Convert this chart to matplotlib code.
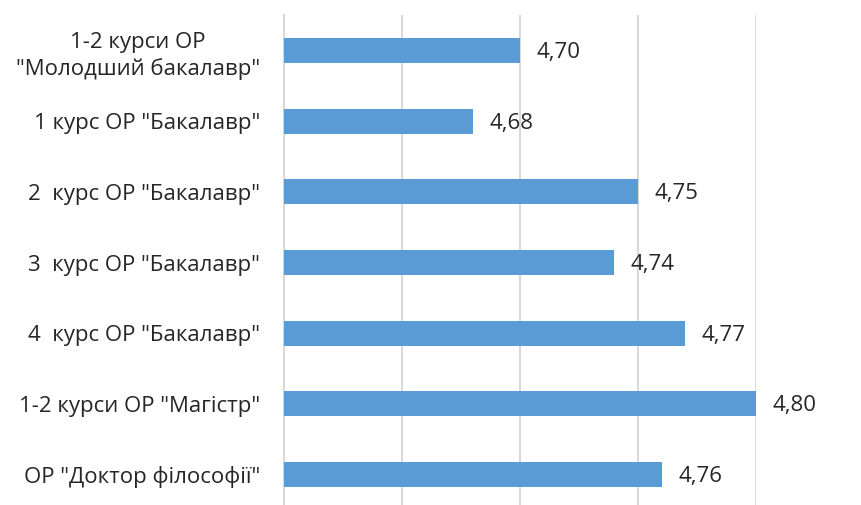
import matplotlib
matplotlib.use("Agg")
import matplotlib.pyplot as plt

categories = ['1-2 курси ОР\n"Молодший бакалавр"', '1 курс ОР "Бакалавр"', '2  курс ОР "Бакалавр"',
              '3  курс ОР "Бакалавр"', '4  курс ОР "Бакалавр"', '1-2 курси ОР "Магістр"',
              'ОР "Доктор філософії"']
values = [4.70, 4.68, 4.75, 4.74, 4.77, 4.80, 4.76]
value_labels = ["4,70", "4,68", "4,75", "4,74", "4,77", "4,80", "4,76"]

plt.rcParams['font.family'] = ['Open Sans', 'DejaVu Sans']

fig = plt.figure(figsize=(8.61, 5.05), dpi=100)
ax = fig.add_axes([283.5/861, 1 - 509.75/505, (756-283.5)/861, (509.75-15.25)/505])

y = list(range(len(categories)))
ax.barh(y, [v - 4.60 for v in values], left=4.60, height=0.355, color='#5B9BD5', zorder=3)
ax.set_ylim(len(categories) - 0.5, -0.5)
ax.set_xlim(4.60, 4.80)
ax.set_xticks([4.60, 4.65, 4.70, 4.75, 4.80])
ax.xaxis.grid(True, color='#d9d9d9', linewidth=1.5, zorder=0)
ax.set_xticklabels([])
ax.tick_params(axis='x', length=0)
ax.tick_params(axis='y', length=0, pad=17)
ax.set_yticks(y)
ax.set_yticklabels(categories, fontsize=16, color='#262626', multialignment='center', linespacing=1.3)
for s in ['top', 'right', 'bottom']:
    ax.spines[s].set_visible(False)
ax.spines['left'].set_color('#d9d9d9')
ax.spines['left'].set_linewidth(1.5)
for yi, v, lab in zip(y, values, value_labels):
    ax.annotate(lab, (v, yi), xytext=(12, -1.5), textcoords='offset points',
                va='center', ha='left', fontsize=16, color='#262626', annotation_clip=False)

fig.savefig('out.png', dpi=100)
